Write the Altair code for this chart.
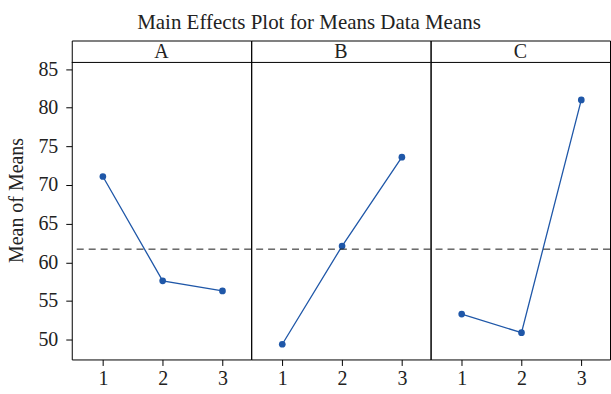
import altair as alt
import pandas as pd

factors = ["A", "B", "C"]
levels = [1, 2, 3]
a_means = [71.1, 57.6, 56.3]
b_means = [49.4, 62.1, 73.6]
c_means = [53.3, 50.9, 81.0]
y_ticks = [50, 55, 60, 65, 70, 75, 80, 85]

rows = []
for f, vals in zip(factors, [a_means, b_means, c_means]):
    for l, v in zip(levels, vals):
        rows.append({"factor": f, "level": l, "mean": v})
df = pd.DataFrame(rows)
df["grand"] = df["mean"].mean()

FONT = "Liberation Serif"
BLUE = "#1f57a8"
ydom = [47.43, 88.69]
xdom = [0.48, 3.48]
W, H = 180, 320

xenc = alt.X("level:Q", scale=alt.Scale(domain=xdom, nice=False, zero=False),
             axis=alt.Axis(values=levels, title=None, grid=False, domain=False,
                           tickSize=6, labelPadding=3, format="d"))
yenc = alt.Y("mean:Q", scale=alt.Scale(domain=ydom, nice=False, zero=False),
             axis=alt.Axis(values=y_ticks, title="Mean of Means", grid=False,
                           domain=False, tickSize=6, labelPadding=8, titlePadding=11))

base = alt.Chart()
line = base.mark_line(color=BLUE, strokeWidth=1.3).encode(x=xenc, y=yenc, order="level:Q")
pts = base.mark_circle(color=BLUE, size=45, opacity=1).encode(x=xenc, y=yenc)
ref = base.mark_rule(color="#1a1a1a", strokeDash=[7, 5], strokeWidth=1).encode(
    y=alt.Y("mean(grand):Q", scale=alt.Scale(domain=ydom, nice=False, zero=False)))
hdr_rule = base.transform_filter(alt.datum.level == 1).mark_rule(
    color="black", strokeWidth=1).encode(
    x=alt.value(0), x2=alt.value(W), y=alt.value(22))
hdr_text = base.transform_filter(alt.datum.level == 1).mark_text(
    font=FONT, fontSize=20, color="#222222", baseline="middle", align="center").encode(
    x=alt.value(W / 2), y=alt.value(11.5), text="factor:N")

layered = alt.layer(line, pts, ref, hdr_rule, hdr_text, data=df).properties(width=W, height=H)

chart = layered.facet(
    column=alt.Column("factor:N", header=alt.Header(labels=False, title=None)),
    spacing=0,
    bounds="flush"
).properties(
    title=alt.TitleParams("Main Effects Plot for Means Data Means", font=FONT,
                          fontSize=21, fontWeight="normal", color="#222222",
                          anchor="middle", offset=7),
    padding={"left": 7, "top": 11, "right": 0, "bottom": 0}
).configure_facet(spacing=0).configure_view(
    stroke="black", strokeWidth=1
).configure_axis(
    labelFont=FONT, labelFontSize=20, labelColor="#222222",
    titleFont=FONT, titleFontSize=20, titleColor="#222222", titleFontWeight="normal",
    tickColor="black"
)

chart.save("out.html", embed_options={"renderer": "svg", "actions": False})
